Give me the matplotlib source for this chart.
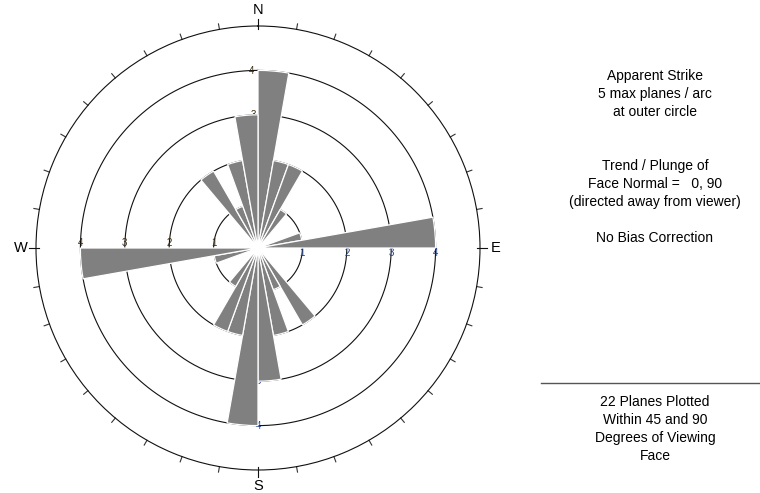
import numpy as np
import matplotlib
matplotlib.use("Agg")
import matplotlib.pyplot as plt

plt.rcParams['font.family'] = ['Liberation Sans', 'DejaVu Sans']

# strike bins (start angle, degrees clockwise from north) and plane counts per bin
bin_starts = [0, 10, 20, 30, 70, 80, 140, 150, 160, 170]
bin_counts = [4, 2, 2, 1, 1, 4, 2, 1, 2, 3]
bin_width = 10
ring_values = [1, 2, 3, 4]
outer_value = 5

info_top = ["Apparent Strike", "5 max planes / arc", "at outer circle", "",
            "", "Trend / Plunge of", "Face Normal =   0, 90",
            "(directed away from viewer)", "", "No Bias Correction"]
info_bottom = ["22 Planes Plotted", "Within 45 and 90", "Degrees of Viewing", "Face"]

fig = plt.figure(figsize=(7.6, 4.93), dpi=100)
ax = fig.add_axes([36 / 760, 23 / 493, 444 / 760, 444 / 493], projection='polar')
ax.set_theta_zero_location('N')
ax.set_theta_direction(-1)
ax.set_ylim(0, outer_value)

# each strike is bidirectional, so draw every bin twice (opposite sides)
starts = np.array(bin_starts + [s + 180 for s in bin_starts])
counts = np.array(bin_counts + bin_counts)
ax.bar(np.radians(starts + bin_width / 2), counts, width=np.radians(bin_width),
       color='#808080', edgecolor='white', linewidth=0.9, zorder=3)

# white hub in the middle
hub = np.linspace(0, 2 * np.pi, 100)
ax.fill(hub, np.full_like(hub, 0.13), color='white', zorder=4)

# concentric count rings
circ = np.linspace(0, 2 * np.pi, 400)
for r in ring_values:
    ax.plot(circ, np.full_like(circ, r), color='#111111', lw=0.8, zorder=2)

# small ring labels along the axes, mostly covered by the wedges
for r in ring_values:
    ax.text(np.radians(90), r, str(r), fontsize=7, color='#1a3a8a',
            ha='center', va='top', zorder=2)
    ax.text(np.radians(270), r, str(r), fontsize=7, color='#3a2a10',
            ha='center', va='bottom', zorder=2)
for r in [3, 4]:
    ax.text(np.radians(358), r, str(r), fontsize=7, color='#3a2a10',
            ha='center', va='center', zorder=2)
    ax.text(np.radians(180), r, str(r), fontsize=7, color='#1a3a8a',
            ha='center', va='center', zorder=2)

ax.grid(False)
ax.set_yticks([])
ax.set_xticks([])
ax.spines['polar'].set_linewidth(0.8)
ax.spines['polar'].set_color('#111111')

# tick marks every 10 degrees on the outer circle
for deg in range(0, 360, 10):
    t = np.radians(deg)
    if deg % 90 == 0:
        ax.plot([t, t], [outer_value * 0.985, outer_value * 1.03], color='#111111',
                lw=0.8, clip_on=False)
    else:
        ax.plot([t, t], [outer_value, outer_value * 1.025], color='#333333',
                lw=0.8, clip_on=False)

# compass letters outside the circle
for ang, lab in zip([0, 90, 180, 270], ['N', 'E', 'S', 'W']):
    ax.text(np.radians(ang), outer_value * 1.07, lab, fontsize=10.5,
            ha='center', va='center', clip_on=False)

# description on the right
for i, line in enumerate(info_top):
    fig.text(655 / 760, 1 - (76 + 18 * i) / 493, line, fontsize=10,
             ha='center', va='center')
fig.add_artist(plt.Line2D([541 / 760, 1.0], [1 - 383 / 493] * 2,
                          color='#555555', lw=1, transform=fig.transFigure))
for i, line in enumerate(info_bottom):
    fig.text(655 / 760, 1 - (402 + 18 * i) / 493, line, fontsize=10,
             ha='center', va='center')

fig.savefig('out.png', dpi=100, facecolor='white')
